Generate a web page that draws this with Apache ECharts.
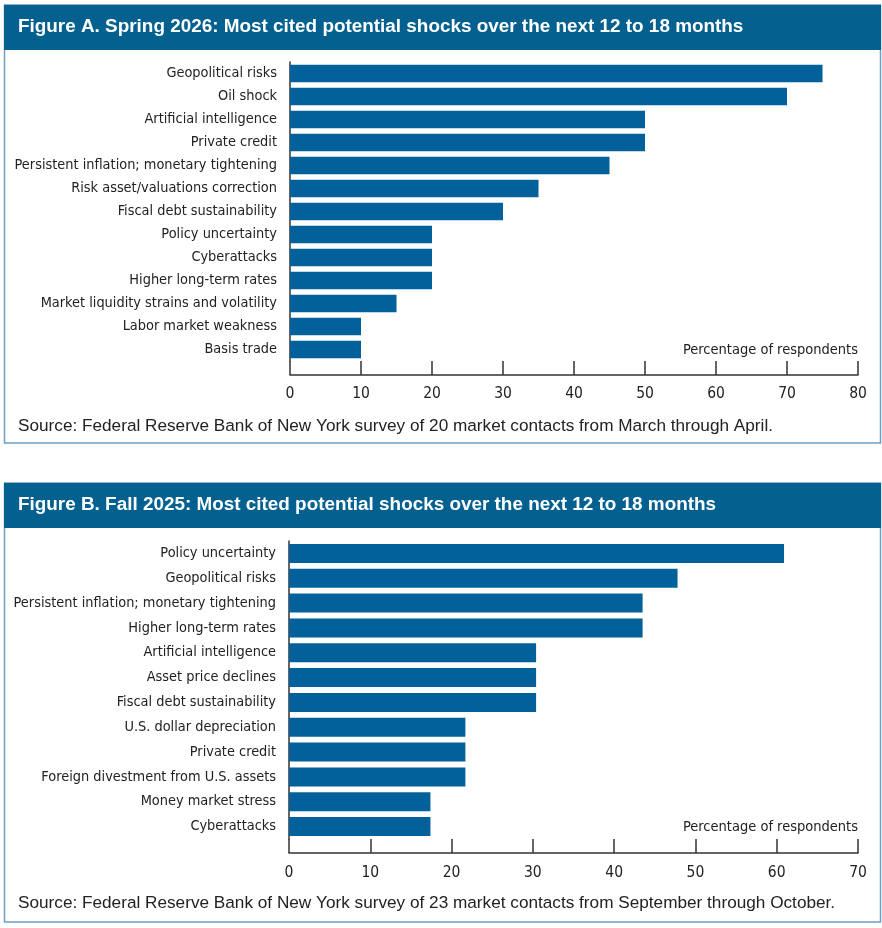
<!DOCTYPE html>
<html>
<head>
<meta charset="utf-8">
<script src="https://cdn.jsdelivr.net/npm/echarts@6/dist/echarts.min.js"></script>
<style>
  html, body { margin: 0; padding: 0; background: #fff; }
  #chart { width: 882px; height: 928px; }
</style>
</head>
<body>
<div id="chart"></div>
<script>
// Figure A: Spring 2026 (20 contacts)
var catsA = ['Geopolitical risks', 'Oil shock', 'Artificial intelligence', 'Private credit',
    'Persistent inflation; monetary tightening', 'Risk asset/valuations correction',
    'Fiscal debt sustainability', 'Policy uncertainty', 'Cyberattacks', 'Higher long-term rates',
    'Market liquidity strains and volatility', 'Labor market weakness', 'Basis trade'];
var valsA = [75, 70, 50, 50, 45, 35, 30, 20, 20, 20, 15, 10, 10];

// Figure B: Fall 2025 (23 contacts)
var catsB = ['Policy uncertainty', 'Geopolitical risks', 'Persistent inflation; monetary tightening',
    'Higher long-term rates', 'Artificial intelligence', 'Asset price declines',
    'Fiscal debt sustainability', 'U.S. dollar depreciation', 'Private credit',
    'Foreign divestment from U.S. assets', 'Money market stress', 'Cyberattacks'];
var valsB = [60.9, 47.8, 43.5, 43.5, 30.4, 30.4, 30.4, 21.7, 21.7, 21.7, 17.4, 17.4];

var titleA = 'Figure A. Spring 2026: Most cited potential shocks over the next 12 to 18 months';
var titleB = 'Figure B. Fall 2025: Most cited potential shocks over the next 12 to 18 months';
var sourceA = 'Source: Federal Reserve Bank of New York survey of 20 market contacts from March through April.';
var sourceB = 'Source: Federal Reserve Bank of New York survey of 23 market contacts from September through October.';
var axisName = 'Percentage of respondents';

var blue = '#02619a';
var narrow = '"Liberation Sans Narrow", "DejaVu Sans Condensed", "Roboto Condensed", sans-serif';
var plain = '"Liberation Sans", Arial, sans-serif';

function xAxisCfg(gridIndex, max, offset, margin) {
    return {
        type: 'value', gridIndex: gridIndex, min: 0, max: max, interval: 10,
        position: 'bottom', offset: offset,
        axisLine: {show: true, lineStyle: {color: '#333', width: 1.5}},
        axisTick: {show: true, inside: true, length: offset, lineStyle: {color: '#333', width: 1.5}},
        axisLabel: {margin: margin, fontSize: 15.5, color: '#222', fontFamily: narrow},
        splitLine: {show: false}
    };
}

function yAxisCfg(gridIndex, cats) {
    return {
        type: 'category', gridIndex: gridIndex, data: cats, inverse: true,
        axisLine: {show: true, lineStyle: {color: '#333', width: 1.5}},
        axisTick: {show: false},
        axisLabel: {margin: 13, fontSize: 14.4, color: '#222', fontFamily: narrow}
    };
}

function box(top, bottom, title, source, sourceY, nameY) {
    return [
        {type: 'rect', shape: {x: 4.5, y: top, width: 876, height: bottom - top},
            style: {fill: 'none', stroke: '#6f9fc2', lineWidth: 1.5}, silent: true},
        {type: 'rect', shape: {x: 4, y: top, width: 877, height: 45},
            style: {fill: '#03608f'}, silent: true},
        {type: 'text', x: 18, y: top + 22, style: {text: title, fill: '#fff', fontSize: 18.9,
            fontWeight: 'bold', fontFamily: plain, verticalAlign: 'middle'}},
        {type: 'text', x: 18, y: sourceY, style: {text: source, fill: '#222', fontSize: 17.2,
            fontFamily: plain, verticalAlign: 'middle'}},
        {type: 'text', x: 858, y: nameY, style: {text: axisName, fill: '#222', fontSize: 14.5,
            fontFamily: narrow, align: 'right', verticalAlign: 'middle'}}
    ];
}

var chart = echarts.init(document.getElementById('chart'));
chart.setOption({
    animation: false,
    grid: [
        {left: 290, top: 62, width: 568, height: 299},
        {left: 289, top: 541, width: 569, height: 298}
    ],
    xAxis: [xAxisCfg(0, 80, 14, 11), xAxisCfg(1, 70, 14, 12)],
    yAxis: [yAxisCfg(0, catsA), yAxisCfg(1, catsB)],
    series: [
        {type: 'bar', xAxisIndex: 0, yAxisIndex: 0, data: valsA, barWidth: 17.5,
            itemStyle: {color: blue}, silent: true},
        {type: 'bar', xAxisIndex: 1, yAxisIndex: 1, data: valsB, barWidth: 19,
            itemStyle: {color: blue}, silent: true}
    ],
    graphic: box(5, 443, titleA, sourceA, 426, 350).concat(box(483, 922, titleB, sourceB, 903, 827))
});
</script>
</body>
</html>
